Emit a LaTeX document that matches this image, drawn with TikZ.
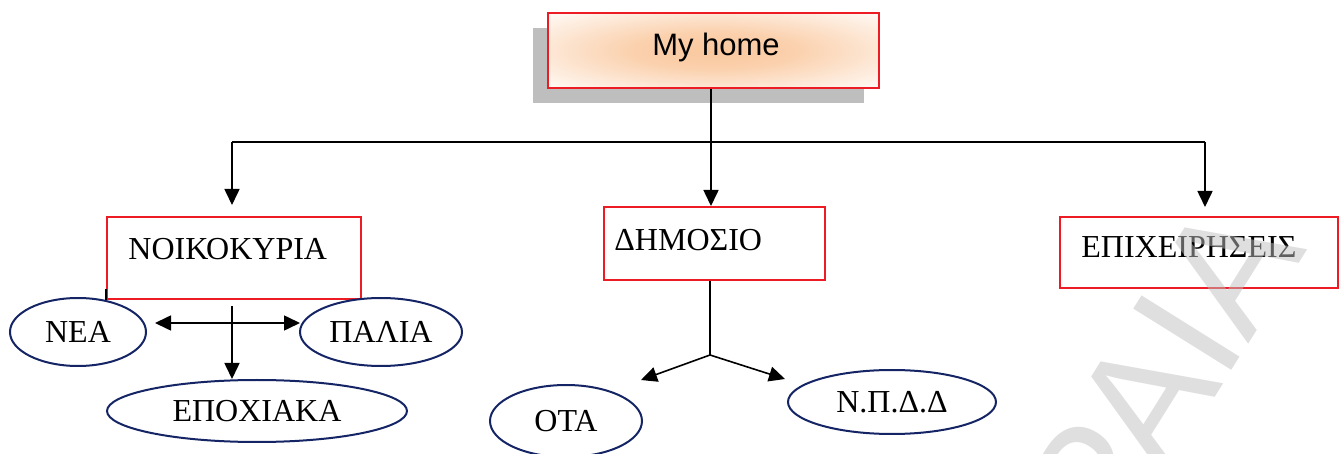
\documentclass[tikz,border=0pt]{standalone}
\usepackage{fontspec}
\setmainfont{Liberation Serif}
\newfontfamily\arialfont{Liberation Sans}
\usetikzlibrary{arrows.meta,shapes.geometric,calc}
\definecolor{boxred}{RGB}{237,28,36}
\definecolor{navy}{RGB}{20,36,100}
\definecolor{peach}{RGB}{250,200,158}
\definecolor{shadowgray}{RGB}{190,190,190}
% soft peach glow for the title box
\pgfdeclareradialshading{homeglow}{\pgfpoint{0bp}{0bp}}{%
  color(0bp)=(peach); color(12bp)=(peach!85!white); color(38bp)=(white); color(50bp)=(white)}
\tikzset{
  redbox/.style={draw=boxred, line width=1pt, rectangle, inner sep=0pt},
  oval/.style={draw=navy, line width=1pt, ellipse, inner sep=0pt,
    font=\fontsize{16}{18}\selectfont},
  label txt/.style={font=\fontsize{16}{18}\selectfont, inner sep=0pt, anchor=base west},
  tip/.style={Triangle[length=8pt,width=7.5pt]},
  link/.style={line width=0.8pt, -{Triangle[length=8pt,width=7.5pt]}},
  twoway/.style={line width=0.8pt, {Triangle[length=8pt,width=7.5pt]}-{Triangle[length=8pt,width=7.5pt]}},
  plain/.style={line width=0.8pt},
  watermark/.style={font=\arialfont\fontsize{84}{84}\selectfont, text=black!25,
    opacity=0.5, inner sep=0pt}
}
\begin{document}
\begin{tikzpicture}[x=0.5pt,y=-0.5pt]
\useasboundingbox (0,0) rectangle (1340,454);

% top box with its drop shadow
\fill[shadowgray] (533,28) rectangle (864,103);
\node[redbox, minimum width=165.5pt, minimum height=37.5pt,
      shading=homeglow] (home) at (713.5,50.5) {};
\node[font=\arialfont\fontsize{15.5}{18}\selectfont, inner sep=0pt] (home-t) at (716,47) {My home};

% second level boxes
\node[redbox, minimum width=127pt, minimum height=41pt] (noik) at (234,258) {};
\node[label txt] (noik-t) at (128,260) {ΝΟΙΚΟΚΥΡΙΑ};
\node[redbox, minimum width=110.5pt, minimum height=36.5pt] (dim) at (714.5,243.5) {};
\node[label txt] (dim-t) at (614,251) {ΔΗΜΟΣΙΟ};
\node[redbox, minimum width=139pt, minimum height=35.5pt] (epix) at (1199,252.5) {};
\node[label txt] (epix-t) at (1081,258) {ΕΠΙΧΕΙΡΗΣΕΙΣ};

% ellipses
\node[oval, minimum width=68pt, minimum height=34pt] (nea) at (78,332) {ΝΕΑ};
\node[oval, minimum width=81pt, minimum height=34pt] (palia) at (381,332) {ΠΑΛΙΑ};
\node[oval, minimum width=150pt, minimum height=31pt] (epox) at (257,411) {ΕΠΟΧΙΑΚΑ};
\node[oval, minimum width=76pt, minimum height=36pt] (ota) at (566,421) {ΟΤΑ};
\node[oval, minimum width=104pt, minimum height=32pt] (npdd) at (892,402) {Ν.Π.Δ.Δ};

% tree from the top box
\coordinate (j) at (711,142);
\coordinate (jl) at (232,142);
\coordinate (jr) at (1205,142);
\draw[plain] (j |- home.south) -- (j);
\draw[plain] (jl) -- (jr);
\draw[link] (jl) -- (232,205);
\draw[link] (j) -- (j |- dim.north);
\draw[link] (jr) -- (1205,207);

% branches of the household box
\coordinate (n0) at (232,306);
\draw[link] (n0) -- (n0 |- epox.north);
\coordinate (nl) at (155,323);
\coordinate (nr) at (300,323);
\draw[twoway] (nl) -- (nr);
\draw[plain] (noik.south west) -- ++(0,-11);

% branches of the public sector box
\coordinate (d0) at (710,355);
\draw[plain] (d0 |- dim.south) -- (d0);
\draw[link] (d0) -- (641,380);
\draw[link] (d0) -- (785,379);

% watermark
\begin{scope}
\clip (0,0) rectangle (1340,454);
\node[watermark, rotate=58, anchor=base east] (wm) at (1308,249) {ΠΕΙΡΑΙΑ};
\end{scope}
\end{tikzpicture}
\end{document}
